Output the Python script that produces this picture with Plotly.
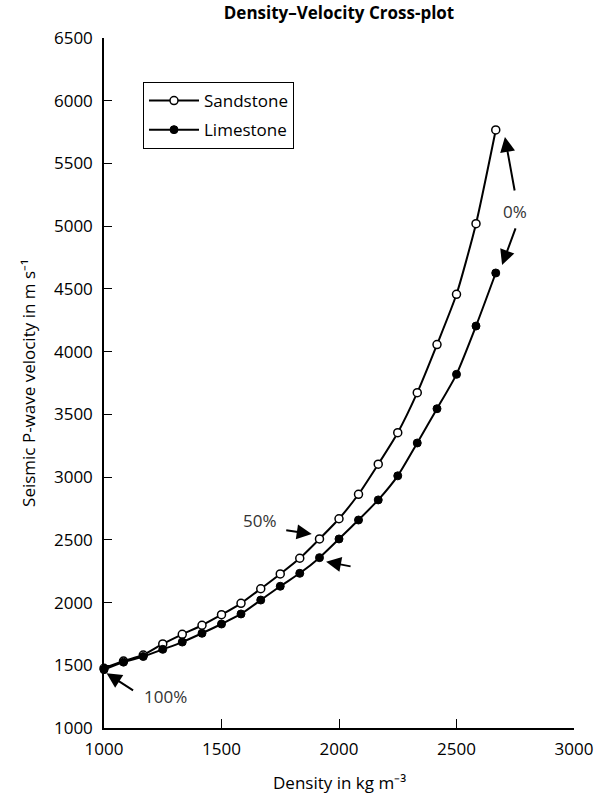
import plotly.graph_objects as go

density = [1000, 1083, 1167, 1250, 1333, 1417, 1500, 1583, 1667, 1750, 1833,
           1917, 2000, 2083, 2167, 2250, 2333, 2417, 2500, 2583, 2667]
sandstone_v = [1476, 1534, 1582, 1670, 1747, 1819, 1903, 1994, 2110, 2228, 2353,
               2507, 2668, 2863, 3103, 3354, 3673, 4056, 4457, 5020, 5767]
limestone_v = [1465, 1525, 1570, 1627, 1685, 1755, 1829, 1909, 2020, 2130, 2233,
               2358, 2507, 2658, 2818, 3010, 3272, 3545, 3819, 4204, 4627]
x_ticks = [1000, 1500, 2000, 2500, 3000]
y_ticks = [1000, 1500, 2000, 2500, 3000, 3500, 4000, 4500, 5000, 5500, 6000, 6500]

FONT = "Open Sans"
TXT = "#333333"
FS = 17

fig = go.Figure()
fig.add_trace(go.Scatter(
    x=density, y=sandstone_v, name="Sandstone", mode="lines+markers", legendgroup="a",
    line=dict(color="black", width=2, shape="spline", smoothing=0.6),
    marker=dict(symbol="circle", size=8, color="white", line=dict(color="black", width=1.5)),
    cliponaxis=False))
fig.add_trace(go.Scatter(
    x=density, y=limestone_v, name="Limestone", mode="lines+markers", legendgroup="b",
    line=dict(color="black", width=2, shape="spline", smoothing=0.6),
    marker=dict(symbol="circle", size=8, color="black", line=dict(color="black", width=1)),
    cliponaxis=False))

arrow = dict(text="", showarrow=True, arrowhead=2, arrowsize=1.5, arrowwidth=2,
             arrowcolor="black", standoff=0)
annos = []
# 0% label and arrows
annos.append(dict(x=2749, y=5121, text="0%", showarrow=False, font=dict(size=FS, color=TXT, family=FONT)))
annos.append(dict(x=2706, y=5711, ax=10, ay=55, **arrow))
annos.append(dict(x=2694, y=4691, ax=14, ay=-38, **arrow))
# 50%
annos.append(dict(x=1664, y=2658, text="50%", showarrow=False, font=dict(size=FS, color=TXT, family=FONT)))
annos.append(dict(x=1884, y=2546, ax=-27, ay=-4, **arrow))
annos.append(dict(x=1945, y=2326, ax=26, ay=5, **arrow))
# 100%
annos.append(dict(x=1260, y=1250, text="100%", showarrow=False, font=dict(size=FS, color=TXT, family=FONT)))
annos.append(dict(x=1011, y=1436, ax=28, ay=18, **arrow))
# x-axis title
annos.append(dict(x=0.5, y=(728 - 783) / 690, xref="paper", yref="paper", yanchor="middle",
                  text="Density in kg m\u207b\u00b3", showarrow=False,
                  font=dict(size=FS, family=FONT, color="black")))

fig.update_layout(
    width=605, height=795,
    margin=dict(l=104, r=31, t=38, b=67),
    paper_bgcolor="white", plot_bgcolor="white",
    font=dict(family=FONT, color="black", size=FS),
    title=dict(text="<b>Density\u2013Velocity Cross-plot</b>", x=0.5, xref="paper",
               y=1 - 13 / 795, yanchor="middle", font=dict(size=FS, family=FONT, color="black")),
    showlegend=True,
    legend=dict(x=(143 - 104) / 470, y=(728 - 82) / 690, xanchor="left", yanchor="top",
                bordercolor="black", borderwidth=1, bgcolor="white",
                font=dict(size=FS, family=FONT, color="black"),
                tracegroupgap=4, itemwidth=50),
    annotations=annos,
    xaxis=dict(range=[1000, 3000], tickvals=x_ticks, ticktext=[str(v) for v in x_ticks],
               showgrid=False, zeroline=False, showline=True, linecolor="black", linewidth=1.5,
               ticks="inside", ticklen=9, tickwidth=1, tickcolor="black",
               ticklabelstandoff=5, automargin=False,
               tickfont=dict(size=FS, family=FONT, color="black")),
    yaxis=dict(range=[1000, 6500], tickvals=y_ticks, ticktext=[str(v) for v in y_ticks],
               showgrid=False, zeroline=False, showline=True, linecolor="black", linewidth=1.5,
               ticks="inside", ticklen=8, tickwidth=1, tickcolor="black",
               ticklabelstandoff=6,
               tickfont=dict(size=FS, family=FONT, color="black"),
               title=dict(text="Seismic P-wave velocity in m s\u207b\u00b9",
                          font=dict(size=FS, family=FONT, color="black"), standoff=14)),
)

fig.write_html("out.html", config={"displayModeBar": False},
               post_script="document.body.style.margin='0';")
